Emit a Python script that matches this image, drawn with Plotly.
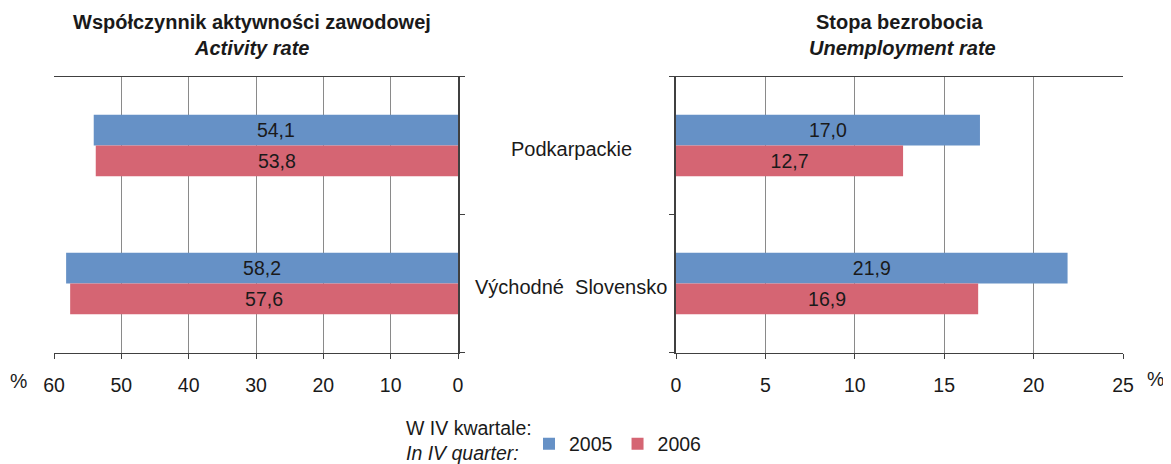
import plotly.graph_objects as go

# Page body has an 8px margin; the figure is sized to fit the window.
OFF = 8
WIN_W, WIN_H = 1171, 464
W, H = WIN_W - 2 * OFF, WIN_H - OFF

regions = ["Podkarpackie", "Východné  Slovensko"]
years = ["2005", "2006"]
activity_2005 = [54.1, 58.2]
activity_2006 = [53.8, 57.6]
unemp_2005 = [17.0, 21.9]
unemp_2006 = [12.7, 16.9]
activity_ticks = [60, 50, 40, 30, 20, 10, 0]
unemp_ticks = [0, 5, 10, 15, 20, 25]

BLUE = "rgb(102,145,198)"
RED = "rgb(213,101,115)"
FONT = "Liberation Sans, Arial, sans-serif"
TXT = "#1a1a1a"


def px_x(p):
    return (p - OFF) / W


def px_y(p):
    return 1 - (p - OFF) / H


def fmt(v):
    return f"{v:.1f}".replace(".", ",")


ypos = list(range(len(regions)))

fig = go.Figure()

series = [
    (activity_2005, unemp_2005, years[0], BLUE),
    (activity_2006, unemp_2006, years[1], RED),
]
for act, une, name, col in series:
    fig.add_trace(go.Bar(
        x=act, y=ypos, orientation="h", name=name, marker=dict(color=col, line=dict(width=0)),
        text=[fmt(v) for v in act], textposition="inside", insidetextanchor="middle",
        constraintext="none", textangle=0,
        textfont=dict(family=FONT, size=19.5, color=TXT),
        xaxis="x", yaxis="y", showlegend=True, hoverinfo="skip",
    ))
for act, une, name, col in series:
    fig.add_trace(go.Bar(
        x=une, y=ypos, orientation="h", name=name, marker=dict(color=col, line=dict(width=0)),
        text=[fmt(v) for v in une], textposition="inside", insidetextanchor="middle",
        constraintext="none", textangle=0,
        textfont=dict(family=FONT, size=19.5, color=TXT),
        xaxis="x2", yaxis="y2", showlegend=False, hoverinfo="skip",
    ))

ydom = [px_y(352.5), px_y(76.5)]
GRID = "#8a8a8a"
AXIS = "#404040"

xcommon = dict(
    showgrid=True, gridcolor=GRID, gridwidth=1, zeroline=False,
    showline=True, linecolor=AXIS, linewidth=1, mirror=True,
    ticks="outside", ticklen=5, tickcolor=AXIS,
    tickfont=dict(family=FONT, size=19.5, color=TXT), ticklabelstandoff=10,
    fixedrange=True, automargin=False,
)
ycommon = dict(
    range=[1.5, -0.5], tickvals=[-0.5, 0.5, 1.5], showticklabels=False,
    showgrid=False, zeroline=False, showline=True, linecolor=AXIS, linewidth=1.5,
    ticks="outside", ticklen=5, tickcolor=AXIS, domain=ydom, fixedrange=True,
    automargin=False,
)

fig.update_layout(
    width=W, height=H, margin=dict(l=0, r=0, t=0, b=0, pad=0, autoexpand=False),
    paper_bgcolor="white", plot_bgcolor="white",
    barmode="group", bargap=0.556, bargroupgap=0,
    font=dict(family=FONT, size=19.5, color=TXT),
    xaxis=dict(domain=[px_x(54), px_x(458)], range=[60, 0], tickvals=activity_ticks,
               anchor="y", **xcommon),
    yaxis=dict(anchor="x", side="right", **ycommon),
    xaxis2=dict(domain=[px_x(676), px_x(1123)], range=[0, 25], tickvals=unemp_ticks,
                anchor="y2", **xcommon),
    yaxis2=dict(anchor="x2", side="left", **ycommon),
    legend=dict(orientation="h", x=px_x(529), y=px_y(444), xanchor="left", yanchor="middle",
                font=dict(family=FONT, size=19.5, color=TXT), itemwidth=30,
                traceorder="normal", bgcolor="rgba(0,0,0,0)"),
    showlegend=True,
)

annotations = []
titles = [
    ("<b>Współczynnik aktywności zawodowej</b>", 252, 22),
    ("<b><i>Activity rate</i></b>", 252, 48),
    ("<b>Stopa bezrobocia</b>", 900, 22),
    ("<b><i>Unemployment rate</i></b>", 902, 48),
]
for t, x, y in titles:
    annotations.append(dict(text=t, x=px_x(x), y=px_y(y), xref="paper", yref="paper",
                            xanchor="center", yanchor="middle", showarrow=False,
                            font=dict(family=FONT, size=20, color=TXT)))
# category labels
for i, r in enumerate(regions):
    annotations.append(dict(text=r, x=px_x(571), y=ypos[i], xref="paper", yref="y",
                            xanchor="center", yanchor="middle", yshift=-3, showarrow=False,
                            font=dict(family=FONT, size=20, color=TXT)))
# percent signs
annotations.append(dict(text="%", x=px_x(18), y=px_y(381), xref="paper", yref="paper",
                        xanchor="center", yanchor="middle", showarrow=False,
                        font=dict(family=FONT, size=19.5, color=TXT)))
annotations.append(dict(text="%", x=px_x(1155), y=px_y(379), xref="paper", yref="paper",
                        xanchor="center", yanchor="middle", showarrow=False,
                        font=dict(family=FONT, size=19.5, color=TXT)))
# legend caption
annotations.append(dict(text="W IV kwartale:<br><i>In IV quarter:</i>", x=px_x(404), y=px_y(440),
                        xref="paper", yref="paper", xanchor="left", yanchor="middle",
                        align="left", showarrow=False,
                        font=dict(family=FONT, size=19.5, color=TXT)))
fig.update_layout(annotations=annotations)

fig.write_html("out.html")
